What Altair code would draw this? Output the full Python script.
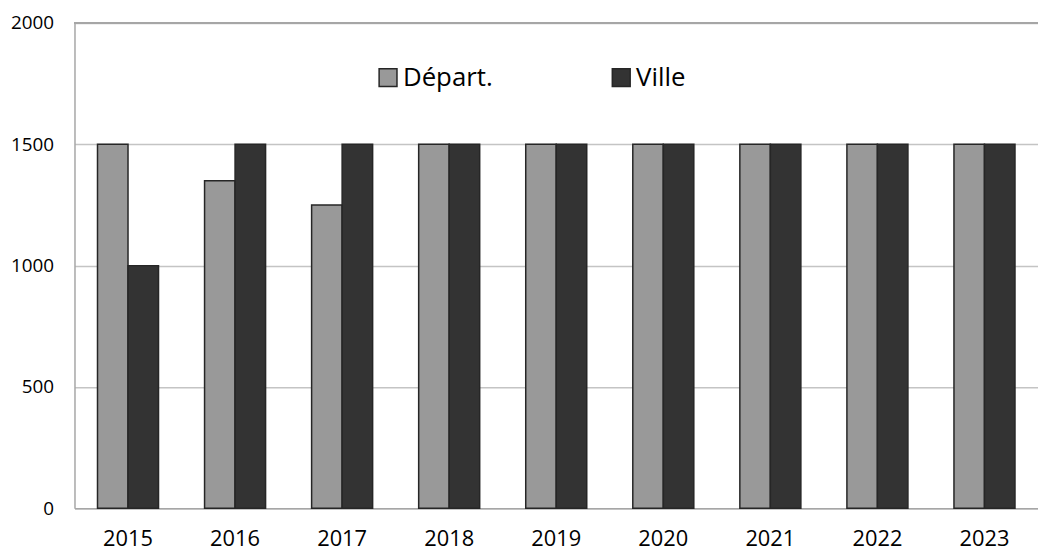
import altair as alt
import pandas as pd

years = ["2015", "2016", "2017", "2018", "2019", "2020", "2021", "2022", "2023"]
depart = [1500, 1350, 1250, 1500, 1500, 1500, 1500, 1500, 1500]
ville = [1000, 1500, 1500, 1500, 1500, 1500, 1500, 1500, 1500]
series = ["Départ.", "Ville"]
colors = ["#999999", "#333333"]
y_ticks = [0, 500, 1000, 1500, 2000]

rows = []
for i, yr in enumerate(years):
    rows.append({"year": yr, "series": series[0], "value": depart[i]})
    rows.append({"year": yr, "series": series[1], "value": ville[i]})
df = pd.DataFrame(rows)

FONT = "Open Sans"

bars = alt.Chart(df).mark_bar(stroke="#262626", strokeWidth=1.5).encode(
    x=alt.X("year:N", sort=years, title=None,
            scale=alt.Scale(paddingInner=0.43, paddingOuter=0.215),
            axis=alt.Axis(labelAngle=0, labelFontSize=22, labelFont=FONT, labelColor="#000000",
                          ticks=False, labelPadding=21, domainColor="#a6a6a6", domainWidth=1.5,
                          grid=False)),
    xOffset=alt.XOffset("series:N", sort=series, scale=alt.Scale(paddingInner=0, paddingOuter=0)),
    y=alt.Y("value:Q", title=None,
            scale=alt.Scale(domain=[0, 2000], nice=False),
            axis=alt.Axis(values=y_ticks, format="d", labelFontSize=19, labelFont=FONT,
                          labelColor="#000000",
                          ticks=False, labelPadding=21, domainColor="#a6a6a6", domainWidth=1.5,
                          grid=True, gridColor="#c4c4c4", gridWidth=1.5)),
    color=alt.Color("series:N", sort=series,
                    scale=alt.Scale(domain=series, range=colors),
                    legend=alt.Legend(title=None, orient="none", legendX=303, legendY=42,
                                      direction="horizontal", symbolType="square", symbolSize=324,
                                      symbolStrokeColor="#262626", symbolStrokeWidth=1.5,
                                      labelFontSize=26, labelFont=FONT, labelColor="#000000",
                                      labelOffset=2, columnPadding=116, padding=0)),
)

top_rule = alt.Chart(df).mark_rule(color="#a6a6a6", strokeWidth=1.5).encode(
    y=alt.datum(2000)
)

chart = alt.layer(top_rule, bars).properties(
    width=971, height=489,
    autosize=alt.AutoSizeParams(type="none"),
    padding={"left": 67, "top": 13, "right": 0, "bottom": 45},
).configure_view(stroke=None)

chart.save("out.html", embed_options={"renderer": "svg", "actions": False})
